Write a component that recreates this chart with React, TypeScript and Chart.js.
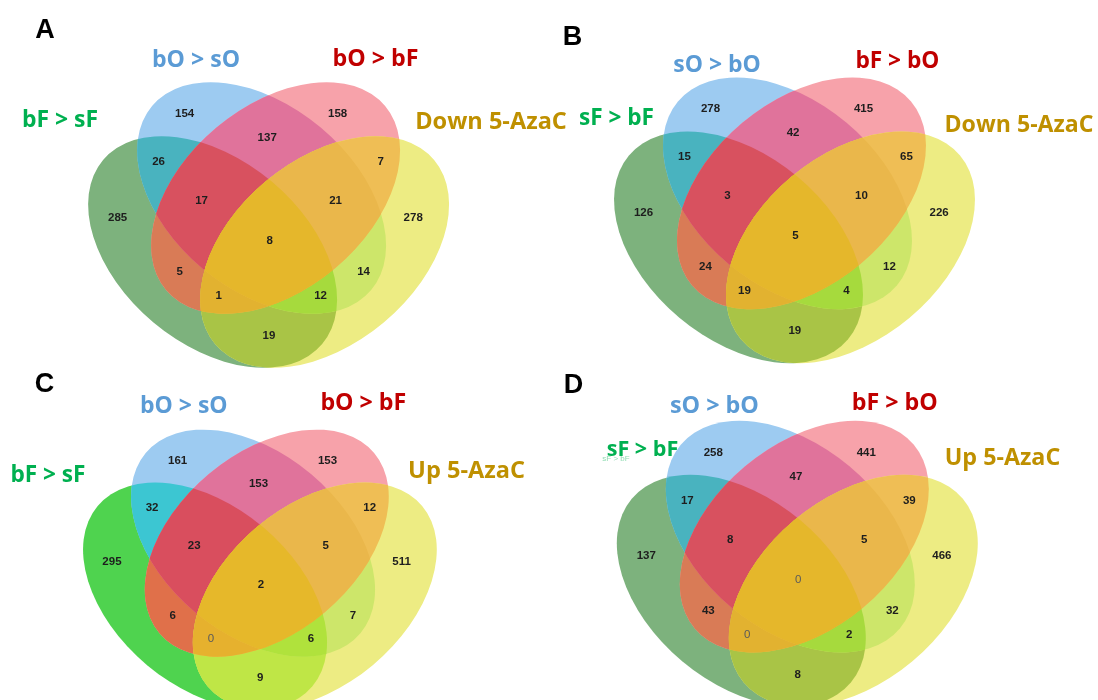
import React, { useEffect, useRef } from "react";
import { Chart, registerables } from "chart.js";

Chart.register(...registerables);

// ---------- DATA ----------
// set order: G (green, left), B (blue), R (red), Y (yellow, right)
const regionKeys = ["B", "R", "BR", "GB", "RY", "GBR", "BRY", "G", "Y", "GBRY", "GR", "BY", "GRY", "GBY", "GY"];
const countsA = [154, 158, 137, 26, 7, 17, 21, 285, 278, 8, 5, 14, 1, 12, 19];
const countsB = [278, 415, 42, 15, 65, 3, 10, 126, 226, 5, 24, 12, 19, 4, 19];
const countsC = [161, 153, 153, 32, 12, 23, 5, 295, 511, 2, 6, 7, 0, 6, 9];
const countsD = [258, 441, 47, 17, 39, 8, 5, 137, 466, 0, 43, 32, 0, 2, 8];
const setNamesA = ["bF > sF", "bO > sO", "bO > bF", "Down 5-AzaC"];
const setNamesB = ["sF > bF", "sO > bO", "bF > bO", "Down 5-AzaC"];
const setNamesC = ["bF > sF", "bO > sO", "bO > bF", "Up 5-AzaC"];
const setNamesD = ["sF > bF", "sO > bO", "bF > bO", "Up 5-AzaC"];
const panelLetters = ["A", "B", "C", "D"];

// ---------- LAYOUT (template relative to central label) ----------
const regionPos: Record<string, [number, number]> = {
  B: [-85, -127], R: [68, -127], BR: [-2.4, -103], GB: [-111, -79], RY: [111, -79],
  GBR: [-68, -40], BRY: [66, -40], G: [-152, -23.5], Y: [143.6, -23.5], GBRY: [0, 0],
  GR: [-90, 31], BY: [94, 31], GRY: [-51, 55], GBY: [51, 55], GY: [-0.7, 95],
};
const SETS = ["G", "B", "R", "Y"];
const ellTemplate: Record<string, { x: number; y: number; rot: number }> = {
  G: { x: -57, y: 12, rot: 40 },
  B: { x: -8, y: -42, rot: 40 },
  R: { x: 6, y: -42, rot: -40 },
  Y: { x: 55, y: 12, rot: -40 },
};
const SEMI_A = 143;
const SEMI_B = 92;

const panels = [
  { cx: 269.6, cy: 240, s: 1, counts: countsA, names: setNamesA, letter: panelLetters[0], letterPos: [45, 38],
    labelPos: [[60, 127, 76], [196, 66.7, 88], [375.5, 66, 86], [491, 128.5, 151.7]], bright: false },
  { cx: 795.5, cy: 235.3, s: 1, counts: countsB, names: setNamesB, letter: panelLetters[1], letterPos: [572.6, 45],
    labelPos: [[616.4, 125, 75], [717, 72, 87.5], [897.4, 68, 84], [1019, 131.5, 149]], bright: false },
  { cx: 260.9, cy: 584.3, s: 0.98, counts: countsC, names: setNamesC, letter: panelLetters[2], letterPos: [44.6, 391.5],
    labelPos: [[48, 482, 75], [183.8, 413, 87.6], [363.3, 410, 85.8], [466.6, 478, 117]], bright: true },
  { cx: 798.3, cy: 578.7, s: 1, counts: countsD, names: setNamesD, letter: panelLetters[3], letterPos: [573.5, 393],
    labelPos: [[642.5, 456, 71.6], [714.4, 413, 89], [894.8, 410, 86], [1002.5, 465, 115.5]], bright: false },
];

const basePalette: Record<string, string> = {
  G: "#7db27d", B: "#9dcbf1", R: "#f7a2aa", Y: "#edec83",
  GB: "#49b3bf", BR: "#e0739b", GR: "#d97b56", RY: "#efbe55", BY: "#cde66a", GY: "#a9c446",
  GBR: "#d8515f", BRY: "#eab74b", GRY: "#e2b230", GBY: "#a6da3d", GBRY: "#e5b72b",
};
const brightPalette: Record<string, string> = {
  ...basePalette,
  G: "#4fd34f", GB: "#3cc6d2", GR: "#e0704a", GY: "#bfe646", GBY: "#b0e23c", GRY: "#e6b12e",
  GBR: "#d94e5e", GBRY: "#e6b82a",
};
const labelColors = ["#00b050", "#5b9bd5", "#c00000", "#bf9000"];

const subsets: string[][] = (() => {
  const out: string[][] = [];
  for (let m = 1; m < 16; m++) {
    const s: string[] = [];
    SETS.forEach((k, i) => { if (m & (1 << i)) s.push(k); });
    out.push(s);
  }
  return out.sort((a, b) => a.length - b.length);
})();

function drawStretched(ctx: CanvasRenderingContext2D, text: string, cx: number, base: number, w: number) {
  const m = ctx.measureText(text).width || 1;
  ctx.save();
  ctx.translate(cx, base);
  ctx.scale(w / m, 1);
  ctx.textAlign = "center";
  ctx.textBaseline = "alphabetic";
  ctx.fillText(text, 0, 0);
  ctx.restore();
}

const vennPlugin = {
  id: "vennPlugin",
  beforeDatasetsDraw(chart: any) {
    const { ctx, scales } = chart;
    const xs = scales.x, ys = scales.y;
    const kx = Math.abs(xs.getPixelForValue(1) - xs.getPixelForValue(0));
    panels.forEach((p) => {
      const pal = p.bright ? brightPalette : basePalette;
      subsets.forEach((sub) => {
        ctx.save();
        sub.forEach((k) => {
          const e = ellTemplate[k];
          ctx.beginPath();
          ctx.ellipse(
            xs.getPixelForValue(p.cx + p.s * e.x),
            ys.getPixelForValue(p.cy + p.s * e.y),
            SEMI_A * p.s * kx, SEMI_B * p.s * kx,
            (e.rot * Math.PI) / 180, 0, Math.PI * 2
          );
          ctx.clip();
        });
        ctx.fillStyle = pal[sub.join("")];
        ctx.fillRect(0, 0, chart.width, chart.height);
        ctx.restore();
      });
    });
  },
  afterDatasetsDraw(chart: any) {
    const { ctx } = chart;
    ctx.save();
    ctx.textAlign = "center";
    ctx.textBaseline = "alphabetic";
    chart.data.datasets.forEach((ds: any, i: number) => {
      const meta = chart.getDatasetMeta(i);
      meta.data.forEach((el: any, j: number) => {
        const v = ds.data[j].v;
        if (v === 0) {
          ctx.font = '11.5px "Liberation Sans", Arial, sans-serif';
          ctx.fillStyle = "#5a5a5a";
        } else {
          ctx.font = 'bold 11.5px "Liberation Sans", Arial, sans-serif';
          ctx.fillStyle = "#1e1e1e";
        }
        ctx.fillText(String(v), el.x, el.y + 4);
      });
    });
    const xs = chart.scales.x, ys = chart.scales.y;
    panels.forEach((p, pi) => {
      ctx.font = 'bold 27px "Liberation Sans", Arial, sans-serif';
      ctx.fillStyle = "#000000";
      ctx.textAlign = "center";
      ctx.fillText(p.letter, xs.getPixelForValue(p.letterPos[0]), ys.getPixelForValue(p.letterPos[1]));
      p.names.forEach((n, k) => {
        const lp = p.labelPos[k];
        const size = pi === 3 && k === 0 ? 21 : 22.5;
        ctx.font = `bold ${size}px "Open Sans", "Liberation Sans", sans-serif`;
        ctx.fillStyle = labelColors[k];
        drawStretched(ctx, n, xs.getPixelForValue(lp[0]), ys.getPixelForValue(lp[1]), lp[2]);
      });
    });
    // faint overlapped small label in panel D
    ctx.font = '8px "Liberation Sans", Arial, sans-serif';
    ctx.fillStyle = "rgba(0,176,80,0.45)";
    ctx.textAlign = "center";
    ctx.fillText(setNamesD[0], xs.getPixelForValue(616), ys.getPixelForValue(461));
    ctx.restore();
  },
};

export default function App() {
  const ref = useRef<HTMLCanvasElement | null>(null);
  useEffect(() => {
    document.body.style.margin = "0";
    const datasets = panels.map((p, i) => ({
      label: panelLetters[i],
      data: regionKeys.map((k, j) => ({
        x: p.cx + p.s * regionPos[k][0],
        y: p.cy + p.s * regionPos[k][1],
        v: p.counts[j],
      })),
      pointRadius: 0,
      showLine: false,
    }));
    const chart = new Chart(ref.current as HTMLCanvasElement, {
      type: "scatter",
      data: { datasets },
      options: {
        animation: false,
        responsive: false,
        maintainAspectRatio: false,
        devicePixelRatio: 1,
        layout: { padding: 0 },
        plugins: { legend: { display: false }, tooltip: { enabled: false } },
        events: [],
        scales: {
          x: { type: "linear", min: 0, max: 1098, display: false },
          y: { type: "linear", min: 0, max: 700, reverse: true, display: false },
        },
      },
      plugins: [vennPlugin],
    } as any);
    return () => chart.destroy();
  }, []);
  return (
    <div style={{ width: 1098, height: 700, background: "#ffffff" }}>
      <canvas ref={ref} width={1098} height={700} style={{ display: "block" }} />
    </div>
  );
}
